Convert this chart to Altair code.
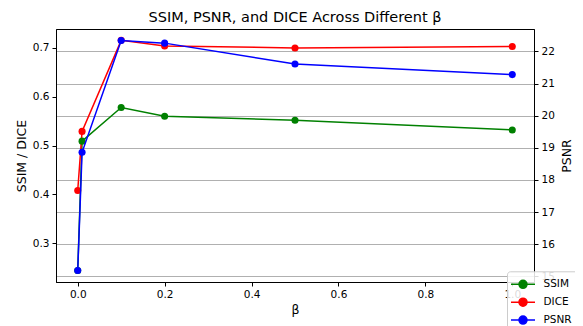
import altair as alt
import pandas as pd

# ---- data ----
beta = [0.0, 0.01, 0.1, 0.2, 0.5, 1.0]
ssim = [0.244, 0.509, 0.578, 0.560, 0.552, 0.532]
dice = [0.408, 0.529, 0.7155, 0.704, 0.700, 0.703]
psnr = [15.18, 18.86, 22.34, 22.26, 21.61, 21.28]
series = ["SSIM", "DICE", "PSNR"]
colors = ["#008000", "#ff0000", "#0000ff"]
x_ticks = [0.0, 0.2, 0.4, 0.6, 0.8, 1.0]
left_ticks = [0.3, 0.4, 0.5, 0.6, 0.7]
right_ticks = [15, 16, 17, 18, 19, 20, 21, 22]

left_df = pd.DataFrame({
    "beta": beta + beta,
    "value": ssim + dice,
    "metric": ["SSIM"] * len(beta) + ["DICE"] * len(beta),
})
right_df = pd.DataFrame({"beta": beta, "value": psnr, "metric": ["PSNR"] * len(beta)})

FONT = "DejaVu Sans"

legend_path = ("M-1.8,0H3.0M-0.2,0a0.8,0.8 0 1,0 1.6,0a0.8,0.8 0 1,0 -1.6,0")

color = alt.Color(
    "metric:N",
    scale=alt.Scale(domain=series, range=colors),
    legend=alt.Legend(
        title=None,
        orient="none",
        legendX=451,
        legendY=242.3,
        symbolType=legend_path,
        symbolSize=100,
        symbolStrokeWidth=1.5,
        labelFontSize=10.5,
        labelFont=FONT,
        labelColor="black",
        labelOffset=17.5,
        rowPadding=3.9,
        padding=7,
        fillColor="rgba(255,255,255,0.85)",
        strokeColor="#cccccc",
        cornerRadius=3,
        symbolOpacity=1,
    ),
)

x = alt.X(
    "beta:Q",
    scale=alt.Scale(domain=[-0.05, 1.05], nice=False, zero=False),
    axis=alt.Axis(values=x_ticks, format=".1f", title="β", grid=False),
)

left = alt.Chart(left_df).mark_line(
    strokeWidth=1.5,
    point=alt.OverlayMarkDef(filled=True, size=50, opacity=1),
).encode(
    x=x,
    y=alt.Y(
        "value:Q",
        scale=alt.Scale(domain=[0.2204, 0.7388], nice=False, zero=False),
        axis=alt.Axis(values=left_ticks, format=".1f", title="SSIM / DICE",
                      grid=False, orient="left"),
    ),
    color=color,
)

right = alt.Chart(right_df).mark_line(
    strokeWidth=1.5,
    point=alt.OverlayMarkDef(filled=True, size=50, opacity=1),
).encode(
    x=x,
    y=alt.Y(
        "value:Q",
        scale=alt.Scale(domain=[14.82, 22.70], nice=False, zero=False),
        axis=alt.Axis(values=right_ticks, format="d", title="PSNR",
                      titleAngle=270, titleBaseline="bottom", titlePadding=19,
                      grid=True, gridColor="#b0b0b0", gridWidth=1, orient="right"),
    ),
    color=color,
)

chart = alt.layer(left, right).resolve_scale(y="independent").properties(
    width=478,
    height=253,
    autosize=alt.AutoSizeParams(type="none"),
    padding={"left": 48, "top": 21, "right": 41, "bottom": 44},
    title=alt.TitleParams("SSIM, PSNR, and DICE Across Different β",
                          fontSize=14.5, font=FONT, fontWeight="normal",
                          color="black", anchor="middle", offset=4),
).configure_view(
    stroke="black", strokeWidth=1,
).configure_axis(
    domainColor="black", domainWidth=1,
    tickColor="black", tickSize=4, tickWidth=1,
    labelColor="black", labelFont=FONT, labelFontSize=10.5, labelPadding=3,
    titleColor="black", titleFont=FONT, titleFontSize=12.5, titleFontWeight="normal",
)

chart.save("out.html", embed_options={"renderer": "svg", "actions": False})
